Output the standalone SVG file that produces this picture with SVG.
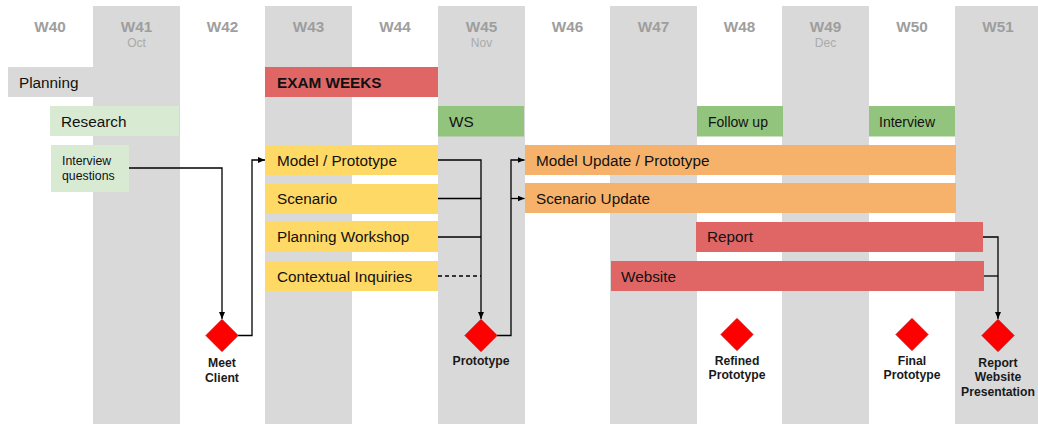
<svg xmlns="http://www.w3.org/2000/svg" width="1038" height="424" viewBox="0 0 1038 424">
  <style>
    .col { fill: #d9d9d9; }
    .wk { font-family: "Liberation Sans", Arial, sans-serif; font-size: 15.3px; font-weight: bold; fill: #9e9e9e; text-anchor: middle; }
    .mo { font-family: "Liberation Sans", Arial, sans-serif; font-size: 12px; fill: #aaaaaa; text-anchor: middle; }
    .lbl { font-family: "Liberation Sans", Arial, sans-serif; font-size: 15.3px; fill: #111; }
    .sm { font-family: "Liberation Sans", Arial, sans-serif; font-size: 14px; fill: #111; }
    .xs { font-family: "Liberation Sans", Arial, sans-serif; font-size: 12.3px; fill: #111; }
    .ms { font-family: "Liberation Sans", Arial, sans-serif; font-size: 12.2px; font-weight: bold; fill: #1a1a1a; text-anchor: middle; }
    .dia { fill: #ff0000; stroke: #cc0000; stroke-width: 1; }
    .conn { fill: none; stroke: #000; stroke-width: 1.3; }
    .dash { stroke-dasharray: 4 3; }
  </style>
  <defs>
    <marker id="arrow" markerWidth="7" markerHeight="6" refX="7" refY="3" orient="auto" markerUnits="userSpaceOnUse">
      <path d="M0,0 L7,3 L0,6 z" fill="#000"/>
    </marker>
  </defs>

  <rect width="1038" height="424" fill="#ffffff"/>

  <!-- week columns -->
  <g id="columns">
    <rect class="col" x="93" y="6" width="87" height="418"/>
    <rect class="col" x="265" y="6" width="87" height="418"/>
    <rect class="col" x="438" y="6" width="87" height="418"/>
    <rect class="col" x="610" y="6" width="87" height="418"/>
    <rect class="col" x="782" y="6" width="87" height="418"/>
    <rect class="col" x="955" y="6" width="87" height="418"/>
  </g>

  <g id="headers">
    <text class="wk" x="50" y="32">W40</text>
    <text class="wk" x="136.5" y="32">W41</text>
    <text class="mo" x="136.5" y="47">Oct</text>
    <text class="wk" x="222.5" y="32">W42</text>
    <text class="wk" x="308.5" y="32">W43</text>
    <text class="wk" x="395" y="32">W44</text>
    <text class="wk" x="481.5" y="32">W45</text>
    <text class="mo" x="481.5" y="47">Nov</text>
    <text class="wk" x="567.5" y="32">W46</text>
    <text class="wk" x="653.5" y="32">W47</text>
    <text class="wk" x="739.5" y="32">W48</text>
    <text class="wk" x="825.5" y="32">W49</text>
    <text class="mo" x="825.5" y="47">Dec</text>
    <text class="wk" x="912" y="32">W50</text>
    <text class="wk" x="998" y="32">W51</text>
  </g>

  <!-- connectors -->
  <g id="connectors">
    <path class="conn" d="M129,168 H222 V319" marker-end="url(#arrow)"/>
    <path class="conn" d="M238,335.5 H252 V160 H265" marker-end="url(#arrow)"/>
    <path class="conn" d="M438,160 H481 V319" marker-end="url(#arrow)"/>
    <path class="conn" d="M438,198.5 H481"/>
    <path class="conn" d="M438,237 H481"/>
    <path class="conn dash" d="M438,276 H481"/>
    <path class="conn" d="M497,335.5 H511 V160 H524.5" marker-end="url(#arrow)"/>
    <path class="conn" d="M511,198.5 H524.5" marker-end="url(#arrow)"/>
    <path class="conn" d="M983,237 H998 V319" marker-end="url(#arrow)"/>
    <path class="conn" d="M984,276 H998"/>
  </g>

  <g id="planning">
    <rect x="8" y="67" width="85" height="30" fill="#d9d9d9"/>
    <text class="lbl" x="19" y="87.5">Planning</text>
  </g>
  <g id="exam-weeks">
    <rect x="265" y="67" width="173" height="30" fill="#e06666"/>
    <text class="lbl" x="277" y="87.5" font-weight="bold" fill="#000">EXAM WEEKS</text>
  </g>
  <g id="research">
    <rect x="50" y="106" width="129" height="30" fill="#d9ead3"/>
    <text class="lbl" x="61" y="126.5">Research</text>
  </g>
  <g id="ws">
    <rect x="438" y="106" width="86" height="30.5" fill="#93c47d"/>
    <text class="lbl" x="449" y="126.5">WS</text>
  </g>
  <g id="follow-up">
    <rect x="697" y="106" width="86" height="30.5" fill="#93c47d"/>
    <text class="sm" x="708" y="127">Follow up</text>
  </g>
  <g id="interview">
    <rect x="869" y="106" width="86" height="30.5" fill="#93c47d"/>
    <text class="sm" x="879" y="127">Interview</text>
  </g>
  <g id="interview-questions">
    <rect x="51" y="145" width="78" height="47" fill="#d9ead3"/>
    <text class="xs" x="62" y="165">Interview</text>
    <text class="xs" x="62" y="179.5">questions</text>
  </g>

  <g id="model-prototype">
    <rect x="265" y="145" width="173" height="30" fill="#ffd966"/>
    <text class="lbl" x="277" y="165.5">Model / Prototype</text>
  </g>
  <g id="scenario">
    <rect x="265" y="184" width="173" height="30" fill="#ffd966"/>
    <text class="lbl" x="277" y="204">Scenario</text>
  </g>
  <g id="planning-workshop">
    <rect x="265" y="221" width="173" height="31" fill="#ffd966"/>
    <text class="lbl" x="277" y="242">Planning Workshop</text>
  </g>
  <g id="contextual-inquiries">
    <rect x="265" y="261" width="173" height="30" fill="#ffd966"/>
    <text class="lbl" x="277" y="281.5">Contextual Inquiries</text>
  </g>

  <g id="model-update">
    <rect x="525" y="145" width="431" height="30" fill="#f6b26b"/>
    <text class="lbl" x="536" y="165.5">Model Update / Prototype</text>
  </g>
  <g id="scenario-update">
    <rect x="525" y="183" width="431" height="30" fill="#f6b26b"/>
    <text class="lbl" x="536" y="203.5">Scenario Update</text>
  </g>
  <g id="report">
    <rect x="696" y="222" width="287" height="30" fill="#e06666"/>
    <text class="lbl" x="707" y="242">Report</text>
  </g>
  <g id="website">
    <rect x="611" y="261" width="373" height="30" fill="#e06666"/>
    <text class="lbl" x="621" y="281.5">Website</text>
  </g>

  <!-- milestones -->
  <g id="meet-client">
    <polygon class="dia" points="222,319.5 238,335.5 222,351.5 206,335.5"/>
    <text class="ms" x="222" y="367">Meet</text>
    <text class="ms" x="222" y="381.5">Client</text>
  </g>
  <g id="prototype">
    <polygon class="dia" points="481,319.5 497,335.5 481,351.5 465,335.5"/>
    <text class="ms" x="481" y="365">Prototype</text>
  </g>
  <g id="refined-prototype">
    <polygon class="dia" points="737,318.5 753,334.5 737,350.5 721,334.5"/>
    <text class="ms" x="737" y="364.5">Refined</text>
    <text class="ms" x="737" y="379">Prototype</text>
  </g>
  <g id="final-prototype">
    <polygon class="dia" points="912,318.5 928,334.5 912,350.5 896,334.5"/>
    <text class="ms" x="912" y="364.5">Final</text>
    <text class="ms" x="912" y="379">Prototype</text>
  </g>
  <g id="final-deliverables">
    <polygon class="dia" points="998,319.5 1014,335.5 998,351.5 982,335.5"/>
    <text class="ms" x="998" y="366.5">Report</text>
    <text class="ms" x="998" y="381">Website</text>
    <text class="ms" x="998" y="395.5">Presentation</text>
  </g>
</svg>
